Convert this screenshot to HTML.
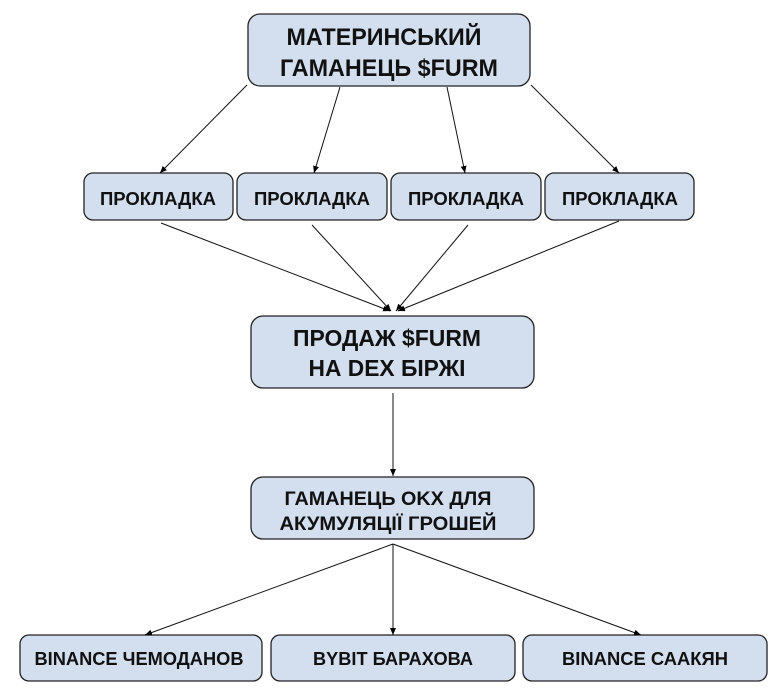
<!DOCTYPE html>
<html><head><meta charset="utf-8"><style>
body{margin:0;background:#fff;width:772px;height:692px;overflow:hidden}
</style></head><body>
<svg width="772" height="692" viewBox="0 0 772 692" xmlns="http://www.w3.org/2000/svg" font-family="Liberation Sans, Arial, sans-serif" font-weight="bold" text-anchor="middle">
<defs><marker id="a" markerWidth="8" markerHeight="8" refX="7" refY="4" orient="auto" markerUnits="userSpaceOnUse"><path d="M0,1 L7,4 L0,7 Z" fill="#000"/></marker></defs>
<g fill="#d3dfee" stroke="#222" stroke-width="1.3">
<rect x="248" y="14" width="282" height="72" rx="12"/>
<rect x="84" y="173" width="149" height="47" rx="9"/>
<rect x="237" y="173" width="150" height="47" rx="9"/>
<rect x="391" y="173" width="150" height="47" rx="9"/>
<rect x="545" y="173" width="149" height="47" rx="9"/>
<rect x="251" y="316" width="283" height="72" rx="12"/>
<rect x="251" y="477" width="283" height="62" rx="12"/>
<rect x="20" y="635" width="242" height="46" rx="9"/>
<rect x="271" y="635" width="244" height="46" rx="9"/>
<rect x="523" y="635" width="244" height="46" rx="9"/>
</g>
<g stroke="#111" stroke-width="1" marker-end="url(#a)">
<line x1="247" y1="85" x2="160" y2="173"/>
<line x1="340" y1="87" x2="314" y2="173"/>
<line x1="447" y1="87" x2="465" y2="173"/>
<line x1="531" y1="85" x2="619" y2="173"/>
<line x1="161" y1="223" x2="390" y2="311"/>
<line x1="312" y1="225" x2="391" y2="311"/>
<line x1="468" y1="225" x2="396" y2="311"/>
<line x1="619" y1="221" x2="398" y2="311"/>
<line x1="393" y1="393" x2="393" y2="476"/>
<line x1="393" y1="544" x2="145" y2="635"/>
<line x1="393" y1="544" x2="393" y2="635"/>
<line x1="393" y1="544" x2="641" y2="635"/>
</g>
<g fill="#111">
<text x="384" y="45" font-size="24" textLength="195" lengthAdjust="spacingAndGlyphs">МАТЕРИНСЬКИЙ</text>
<text x="389" y="76" font-size="24" textLength="218" lengthAdjust="spacingAndGlyphs">ГАМАНЕЦЬ $FURM</text>
<text x="158" y="205" font-size="18" textLength="116" lengthAdjust="spacingAndGlyphs">ПРОКЛАДКА</text>
<text x="312" y="205" font-size="18" textLength="116" lengthAdjust="spacingAndGlyphs">ПРОКЛАДКА</text>
<text x="466" y="205" font-size="18" textLength="116" lengthAdjust="spacingAndGlyphs">ПРОКЛАДКА</text>
<text x="620" y="205" font-size="18" textLength="116" lengthAdjust="spacingAndGlyphs">ПРОКЛАДКА</text>
<text x="387" y="346" font-size="23" textLength="188" lengthAdjust="spacingAndGlyphs">ПРОДАЖ $FURM</text>
<text x="387" y="376" font-size="23" textLength="157" lengthAdjust="spacingAndGlyphs">НА DEX БІРЖІ</text>
<text x="388" y="505" font-size="19" textLength="207" lengthAdjust="spacingAndGlyphs">ГАМАНЕЦЬ OKX ДЛЯ</text>
<text x="388" y="530" font-size="19" textLength="217" lengthAdjust="spacingAndGlyphs">АКУМУЛЯЦІЇ ГРОШЕЙ</text>
<text x="139" y="665" font-size="18" textLength="209" lengthAdjust="spacingAndGlyphs">BINANCE ЧЕМОДАНОВ</text>
<text x="393" y="665" font-size="18" textLength="160" lengthAdjust="spacingAndGlyphs">BYBIT БАРАХОВА</text>
<text x="645" y="665" font-size="18" textLength="166" lengthAdjust="spacingAndGlyphs">BINANCE СААКЯН</text>
</g>
</svg>
</body></html>
